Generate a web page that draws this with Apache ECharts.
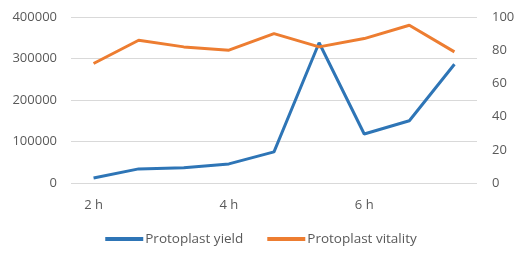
<!DOCTYPE html>
<html>
<head>
<meta charset="utf-8">
<script src="https://cdn.jsdelivr.net/npm/echarts@6/dist/echarts.min.js"></script>
<style>
  html, body { margin: 0; padding: 0; background: #fff; }
  #chart { width: 522px; height: 257px; }
</style>
</head>
<body>
<div id="chart"></div>
<script>
// categories (only every third one is labelled)
var categories = ['2 h', '', '', '4 h', '', '', '6 h', '', '']
var yieldValues = [12000, 34000, 37000, 46000, 75000, 338000, 118000, 150000, 286000]
var vitalityValues = [72, 86, 82, 80, 90, 82, 87, 95, 79]
var seriesNames = ['Protoplast yield', 'Protoplast vitality']

var chart = echarts.init(document.getElementById('chart'))
var fontFamily = 'Open Sans, sans-serif'
var labelColor = '#595959'

chart.setOption({
  animation: false,
  color: ['#2E75B6', '#ED7D31'],
  grid: { left: 71, right: 45, top: 17, bottom: 74 },
  legend: {
    bottom: 6,
    left: 'center',
    icon: 'rect',
    itemWidth: 38,
    itemHeight: 4,
    itemGap: 24,
    textStyle: { color: labelColor, fontSize: 13.5, fontFamily: fontFamily, padding: [0, 0, 0, -3] },
    data: seriesNames
  },
  xAxis: {
    type: 'category',
    data: categories,
    boundaryGap: true,
    axisLine: { show: false },
    axisTick: { show: false },
    axisLabel: { interval: 0, color: labelColor, fontSize: 13, fontFamily: fontFamily, margin: 16 }
  },
  yAxis: [
    {
      type: 'value',
      min: 0, max: 400000, interval: 100000,
      axisLine: { show: false },
      axisTick: { show: false },
      axisLabel: {
        color: labelColor, fontSize: 13, fontFamily: fontFamily, margin: 14,
        formatter: function (v) { return String(v) }
      },
      splitLine: { lineStyle: { color: '#d9d9d9' } }
    },
    {
      type: 'value',
      min: 0, max: 100, interval: 20,
      axisLine: { show: false },
      axisTick: { show: false },
      axisLabel: { color: labelColor, fontSize: 13, fontFamily: fontFamily, margin: 15 },
      splitLine: { show: false }
    }
  ],
  series: [
    {
      name: seriesNames[0],
      type: 'line',
      yAxisIndex: 0,
      data: yieldValues,
      symbol: 'none',
      lineStyle: { width: 3 }
    },
    {
      name: seriesNames[1],
      type: 'line',
      yAxisIndex: 1,
      data: vitalityValues,
      symbol: 'none',
      lineStyle: { width: 3 }
    }
  ]
})
</script>
</body>
</html>
